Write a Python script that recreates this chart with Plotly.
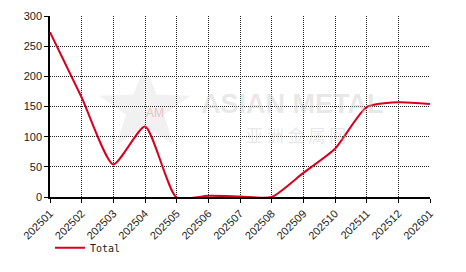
import math
import plotly.graph_objects as go

months = ["202501","202502","202503","202504","202505","202506","202507",
          "202508","202509","202510","202511","202512","202601"]
total = [273, 165, 54, 117, -1, 2, 1, 0, 40, 80, 149, 157, 154]

fig = go.Figure()
fig.add_trace(go.Scatter(
    x=months, y=total, mode="lines", name="Total",
    line=dict(color="#d7001e", width=2, shape="spline", smoothing=0.6),
))

# watermark (decorative)
W, H, L, T = 380, 200, 50, 10
def to_paper(px, py):
    return (px - L) / W, (T + H - py) / H
cx, cy, ro, ri = 145, 113, 48, 20
pts = []
for k in range(10):
    ang = math.pi / 2 + k * math.pi / 5
    r = ro if k % 2 == 0 else ri
    pts.append(to_paper(cx + r * math.cos(ang), cy - r * math.sin(ang)))
path = "M " + " L ".join(f"{x:.4f},{y:.4f}" for x, y in pts) + " Z"
fig.add_shape(type="path", path=path, xref="paper", yref="paper",
              fillcolor="rgba(190,190,190,0.22)", line=dict(width=0), layer="below")
fig.add_annotation(text="AM", xref="paper", yref="paper", x=0.247, y=0.465,
                   showarrow=False, font=dict(family="Liberation Sans", size=12, color="rgba(235,140,140,0.5)"))
fig.add_annotation(text="<b>ASIAN METAL</b>", xref="paper", yref="paper", x=0.637, y=0.515,
                   showarrow=False, font=dict(family="Liberation Sans", size=27, color="rgba(200,200,200,0.42)"))
fig.add_annotation(text="亚 洲 金 属 网", xref="paper", yref="paper", x=0.647, y=0.345,
                   showarrow=False, font=dict(family="Noto Sans CJK SC", size=17, color="rgba(200,200,200,0.42)"))

axis_common = dict(
    showline=True, linecolor="black", linewidth=1.5,
    ticks="outside", ticklen=4, tickcolor="black",
    showgrid=True, gridcolor="#222", griddash="1px,1px", gridwidth=1,
    tickfont=dict(family="Liberation Sans", size=11, color="#222"),
    zeroline=False,
)

fig.update_layout(
    width=466, height=272,
    margin=dict(l=50, r=36, t=10, b=62),
    paper_bgcolor="white", plot_bgcolor="white",
    showlegend=True,
    legend=dict(x=0.0, y=-0.2, xanchor="left", yanchor="top", orientation="h",
                font=dict(family="DejaVu Sans Mono", size=10, color="#222"),
                bgcolor="rgba(0,0,0,0)"),
    xaxis=dict(axis_common, type="category", tickangle=-45, range=[0, 12]),
    yaxis=dict(axis_common, range=[0, 300], dtick=50),
)

fig.write_html("out.html")
